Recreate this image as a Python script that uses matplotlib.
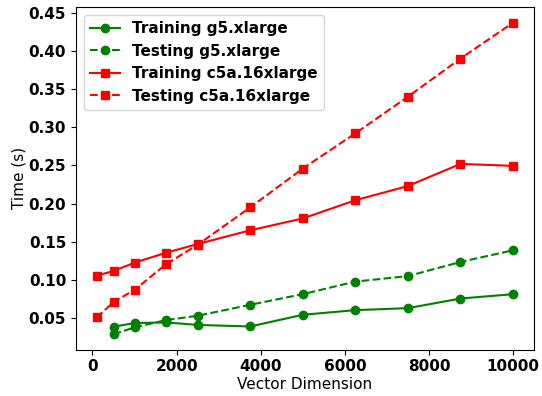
import matplotlib
matplotlib.use("Agg")
import matplotlib.pyplot as plt

x_g5 = [500, 1000, 1750, 2500, 3750, 5000, 6250, 7500, 8750, 10000]
train_g5 = [0.0387, 0.0435, 0.0443, 0.041, 0.039, 0.0543, 0.0604, 0.063, 0.0756, 0.0813]
test_g5 = [0.029, 0.0377, 0.0474, 0.053, 0.0674, 0.0813, 0.0978, 0.105, 0.1235, 0.1388]

x_c5 = [100, 500, 1000, 1750, 2500, 3750, 5000, 6250, 7500, 8750, 10000]
train_c5 = [0.1056, 0.1117, 0.1226, 0.1356, 0.147, 0.165, 0.1805, 0.2044, 0.223, 0.252, 0.2494]
test_c5 = [0.0508, 0.0709, 0.087, 0.1205, 0.146, 0.195, 0.2458, 0.292, 0.34, 0.39, 0.437]

fig = plt.figure(figsize=(5.42, 3.96), dpi=100)
ax = fig.add_axes([0.140, 0.117, 0.845, 0.865])

ax.plot(x_g5, train_g5, color="green", marker="o", linestyle="-", markersize=6, label="Training g5.xlarge")
ax.plot(x_g5, test_g5, color="green", marker="o", linestyle="--", markersize=6, label="Testing g5.xlarge")
ax.plot(x_c5, train_c5, color="red", marker="s", linestyle="-", markersize=6, label="Training c5a.16xlarge")
ax.plot(x_c5, test_c5, color="red", marker="s", linestyle="--", markersize=6, label="Testing c5a.16xlarge")

ax.set_xlabel("Vector Dimension", fontsize=11, labelpad=2)
ax.set_ylabel("Time (s)", fontsize=11, labelpad=1.5)
ax.set_xticks([0, 2000, 4000, 6000, 8000, 10000])
ax.set_yticks([0.05, 0.10, 0.15, 0.20, 0.25, 0.30, 0.35, 0.40, 0.45])
for lab in ax.get_xticklabels() + ax.get_yticklabels():
    lab.set_fontweight("bold")
    lab.set_fontsize(11)

leg = ax.legend(loc="upper left", prop={"weight": "bold", "size": 11})

fig.savefig("out.png", dpi=100)
